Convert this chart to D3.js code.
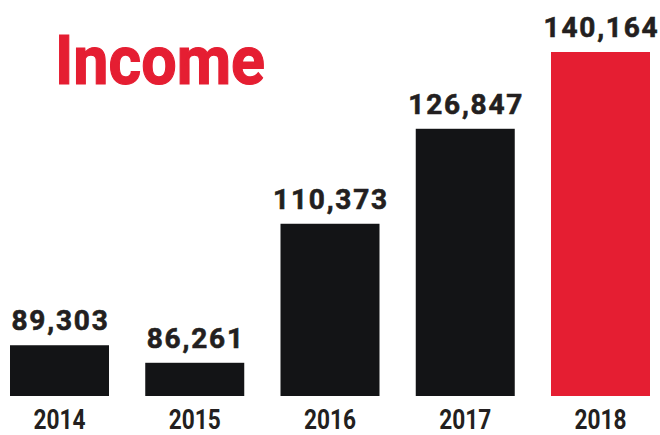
<!DOCTYPE html>
<html>
<head>
<meta charset="utf-8">
<script src="https://cdn.jsdelivr.net/npm/d3@7"></script>
<style>
  html, body { margin: 0; padding: 0; background: #fff; }
  svg { display: block; }
</style>
</head>
<body>
<svg id="chart" width="660" height="435"></svg>
<script>
// Annual income figures
const years = ["2014", "2015", "2016", "2017", "2018"];
const income = [89303, 86261, 110373, 126847, 140164];
const highlightYear = "2018";
const title = "Income";

const RED = "#e51e32", BAR = "#131416", INK = "#231f20";

const svg = d3.select("#chart");

const x = d3.scaleBand()
  .domain(years)
  .range([10, 650])
  .paddingInner(0.268)
  .paddingOuter(0);

// Value axis starts above zero so the differences read clearly
const y = d3.scaleLinear()
  .domain([80500, 140164])
  .range([396, 52]);

const data = years.map((yr, i) => ({ year: yr, value: income[i] }));
const fmt = d3.format(",");

// Title
svg.append("text")
  .attr("x", 55)
  .attr("y", 84)
  .attr("font-family", "Roboto, sans-serif")
  .attr("font-weight", 700)
  .attr("font-size", 69)
  .attr("fill", RED)
  .attr("stroke", RED)
  .attr("stroke-width", 1.2)
  .attr("textLength", 210)
  .attr("lengthAdjust", "spacingAndGlyphs")
  .text(title);

// Bars
svg.append("g").selectAll("rect")
  .data(data)
  .join("rect")
  .attr("x", d => x(d.year))
  .attr("width", x.bandwidth())
  .attr("y", d => y(d.value))
  .attr("height", d => y.range()[0] - y(d.value))
  .attr("fill", d => d.year === highlightYear ? RED : BAR);

// Value labels above bars
svg.append("g").selectAll("text")
  .data(data)
  .join("text")
  .attr("x", d => x(d.year) + x.bandwidth() / 2 + 1)
  .attr("y", d => y(d.value) - 15)
  .attr("text-anchor", "middle")
  .attr("font-family", "Roboto, sans-serif")
  .attr("font-weight", 700)
  .attr("font-size", 28)
  .attr("letter-spacing", 1.8)
  .attr("fill", INK)
  .attr("stroke", INK)
  .attr("stroke-width", 0.6)
  .text(d => fmt(d.value));

// Year axis (no line, labels only)
const xAxis = d3.axisBottom(x).tickSize(0).tickPadding(0);
const axisG = svg.append("g")
  .attr("transform", `translate(0,${y.range()[0]})`)
  .call(xAxis);
axisG.select(".domain").remove();
axisG.selectAll(".tick text")
  .attr("dy", null)
  .attr("y", 33)
  .attr("font-family", "Roboto, sans-serif")
  .attr("font-weight", 700)
  .attr("font-size", 28)
  .attr("fill", INK)
  .attr("textLength", 52)
  .attr("lengthAdjust", "spacingAndGlyphs");
</script>
</body>
</html>
